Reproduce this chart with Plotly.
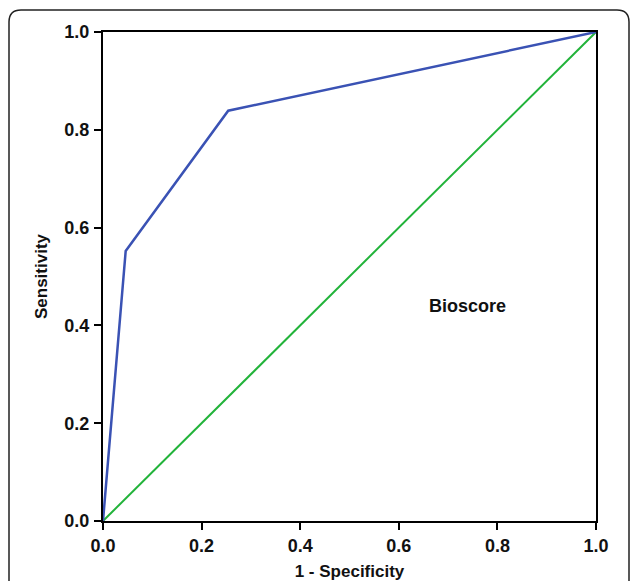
import plotly.graph_objects as go

# ROC data
fpr = [0.0, 0.046, 0.254, 1.0]
tpr = [0.0, 0.552, 0.839, 1.0]
ref_x = [0.0, 1.0]
ref_y = [0.0, 1.0]
tick_vals = [0.0, 0.2, 0.4, 0.6, 0.8, 1.0]
tick_text = ["0.0", "0.2", "0.4", "0.6", "0.8", "1.0"]
label_text = "Bioscore"
label_pos = (0.74, 0.44)

W, H = 630, 581
L, R, T, B = 103, 34, 32, 60
pw, ph = W - L - R, H - T - B

def px(x):
    return (x - L) / pw

def py(y):
    return (H - B - y) / ph

FONT = "Liberation Sans, Arial"

fig = go.Figure()
fig.add_trace(go.Scatter(x=ref_x, y=ref_y, mode="lines",
                         line=dict(color="#22b33a", width=2), showlegend=False))
fig.add_trace(go.Scatter(x=fpr, y=tpr, mode="lines",
                         line=dict(color="#3a52b4", width=2.5), showlegend=False))

fig.add_annotation(x=label_pos[0], y=label_pos[1], text=label_text, showarrow=False,
                   font=dict(family=FONT, size=18, color="#111", weight="bold"),
                   xanchor="center", yanchor="middle")

# outer rounded frame
x0, x1, y0, y1, r = 9, 629, 10, 640, 12
path = (f"M {px(x0)},{py(y1)} L {px(x0)},{py(y0 + r)} "
        f"Q {px(x0)},{py(y0)} {px(x0 + r)},{py(y0)} "
        f"L {px(x1 - r)},{py(y0)} Q {px(x1)},{py(y0)} {px(x1)},{py(y0 + r)} "
        f"L {px(x1)},{py(y1)}")
fig.add_shape(type="path", xref="paper", yref="paper", path=path,
              line=dict(color="#222", width=1.5))

axis_common = dict(range=[0, 1], tickvals=tick_vals, ticktext=tick_text,
                   showgrid=False, zeroline=False, showline=True, mirror=True,
                   linecolor="black", linewidth=2, ticks="outside", ticklen=7,
                   tickwidth=1.5, tickcolor="black",
                   tickfont=dict(family=FONT, size=18, color="#111", weight="bold"))

fig.update_xaxes(**axis_common,
                 title=dict(text="1 - Specificity", standoff=13,
                            font=dict(family=FONT, size=17, color="#111", weight="bold")))
fig.update_yaxes(**axis_common, ticklabelstandoff=1,
                 title=dict(text="Sensitivity", standoff=12,
                            font=dict(family=FONT, size=17, color="#111", weight="bold")))

fig.update_layout(width=W, height=H, margin=dict(l=L, r=R, t=T, b=B, autoexpand=False),
                  paper_bgcolor="white", plot_bgcolor="white",
                  font=dict(family=FONT))

fig.write_html("out.html", config={"displayModeBar": False},
               post_script="document.body.style.margin='0px';document.body.style.overflow='hidden';")
